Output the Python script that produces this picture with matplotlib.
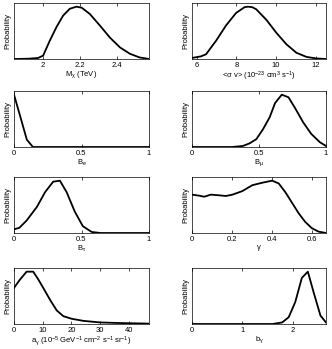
import numpy as np
from matplotlib import pyplot as plt

plt.rcParams['font.family'] = ['Liberation Sans', 'DejaVu Sans']
plt.rcParams['mathtext.fontset'] = 'custom'
plt.rcParams['mathtext.rm'] = 'Liberation Sans'
plt.rcParams['mathtext.it'] = 'Liberation Sans'
plt.rcParams['mathtext.default'] = 'regular'

# M_chi (TeV)
m_x = [1.843, 1.92, 1.973, 2.0, 2.036, 2.072, 2.108, 2.144, 2.18, 2.208, 2.252, 2.306, 2.36, 2.415, 2.468, 2.52, 2.571]
m_y = [0.0, 0.005, 0.02, 0.064, 0.35, 0.61, 0.83, 0.96, 1.0, 0.98, 0.86, 0.64, 0.41, 0.22, 0.1, 0.03, 0.0]

# <sigma v>
sv_x = [5.75, 6.2, 6.46, 6.97, 7.47, 7.98, 8.41, 8.58, 8.8, 9.0, 9.51, 10.02, 10.53, 11.03, 11.54, 12.05, 12.53]
sv_y = [0.02, 0.05, 0.09, 0.35, 0.64, 0.88, 0.99, 1.0, 0.99, 0.95, 0.75, 0.5, 0.28, 0.12, 0.04, 0.01, 0.0]

# B_e
be_x = [0.0, 0.05, 0.095, 0.14, 1.0]
be_y = [1.0, 0.55, 0.14, 0.0, 0.0]

# B_mu
bm_x = [0.0, 0.3, 0.38, 0.43, 0.48, 0.53, 0.58, 0.62, 0.67, 0.72, 0.77, 0.83, 0.89, 0.955, 1.0]
bm_y = [0.0, 0.0, 0.02, 0.07, 0.15, 0.34, 0.57, 0.84, 1.0, 0.95, 0.74, 0.47, 0.25, 0.09, 0.02]

# B_tau
bt_x = [0.0, 0.04, 0.094, 0.17, 0.23, 0.29, 0.34, 0.39, 0.45, 0.51, 0.575, 0.64, 1.0]
bt_y = [0.07, 0.1, 0.24, 0.5, 0.78, 0.98, 1.0, 0.78, 0.41, 0.13, 0.02, 0.0, 0.0]

# gamma
g_x = [0, 0.036, 0.061, 0.094, 0.136, 0.169, 0.202, 0.251, 0.301, 0.35, 0.4, 0.433, 0.466, 0.499, 0.532, 0.565, 0.598, 0.631, 0.669]
g_y = [0.733, 0.713, 0.693, 0.733, 0.72, 0.707, 0.733, 0.8, 0.913, 0.96, 1.0, 0.947, 0.78, 0.58, 0.38, 0.213, 0.093, 0.027, 0.0]

# a_gamma
a_x = [0, 2.1, 4.4, 6.7, 8.5, 10.2, 12.6, 14.9, 17.2, 20.1, 24.2, 30, 35.8, 47.1]
a_y = [0.69, 0.85, 1.0, 1.0, 0.85, 0.69, 0.46, 0.26, 0.15, 0.1, 0.06, 0.03, 0.02, 0.007]

# b_gamma
b_x = [0, 1.6, 1.79, 1.92, 2.05, 2.18, 2.3, 2.41, 2.55, 2.66]
b_y = [0, 0, 0.03, 0.13, 0.42, 0.88, 1.0, 0.62, 0.16, 0.03]

panels = [
    (m_x, m_y, [1.843, 2.571], [2, 2.2, 2.4], ['2', '2.2', '2.4'], r'M$_{\chi}$ (TeV)'),
    (sv_x, sv_y, [5.75, 12.53], [6, 8, 10, 12], ['6', '8', '10', '12'],
     r'<$\sigma$ v> (10$^{-23}$ cm$^{3}$ s$^{-1}$)'),
    (be_x, be_y, [0, 1], [0, 0.5, 1], ['0', '0.5', '1'], r'B$_{e}$'),
    (bm_x, bm_y, [0, 1], [0, 0.5, 1], ['0', '0.5', '1'], r'B$_{\mu}$'),
    (bt_x, bt_y, [0, 1], [0, 0.5, 1], ['0', '0.5', '1'], r'B$_{\tau}$'),
    (g_x, g_y, [0, 0.669], [0, 0.2, 0.4, 0.6], ['0', '0.2', '0.4', '0.6'], r'$\gamma$'),
    (a_x, a_y, [0, 47.1], [0, 10, 20, 30, 40], ['0', '10', '20', '30', '40'],
     r'a$_{\gamma}$ (10$^{-5}$ GeV$^{-1}$ cm$^{-2}$ s$^{-1}$ sr$^{-1}$)'),
    (b_x, b_y, [0, 2.66], [0, 1, 2], ['0', '1', '2'], r'b$_{\gamma}$'),
]

W, H = 332, 349
fig = plt.figure(figsize=(W / 100, H / 100), dpi=100)

lefts = [14, 192]
widths = [135, 134]
tops = [3, 91, 177, 268]
height = 56

for i, (x, y, xlim, ticks, labels, xlabel) in enumerate(panels):
    r, c = divmod(i, 2)
    ax = fig.add_axes([lefts[c] / W, 1 - (tops[r] + height) / H, widths[c] / W, height / H])
    ax.plot(x, y, color='black', lw=1.3)
    ax.set_xlim(xlim)
    ax.set_ylim(0, 1.07)
    ax.set_xticks(ticks)
    ax.set_xticklabels(labels)
    ax.set_yticks([])
    ax.tick_params(axis='x', direction='in', length=2, width=0.5, labelsize=5.5, pad=2, top=True)
    ax.set_xlabel(xlabel, fontsize=5.5, labelpad=0.5)
    ax.set_ylabel('Probability', fontsize=5.5, labelpad=2)
    for s in ax.spines.values():
        s.set_linewidth(0.5)

fig.savefig('out.png', dpi=100)
